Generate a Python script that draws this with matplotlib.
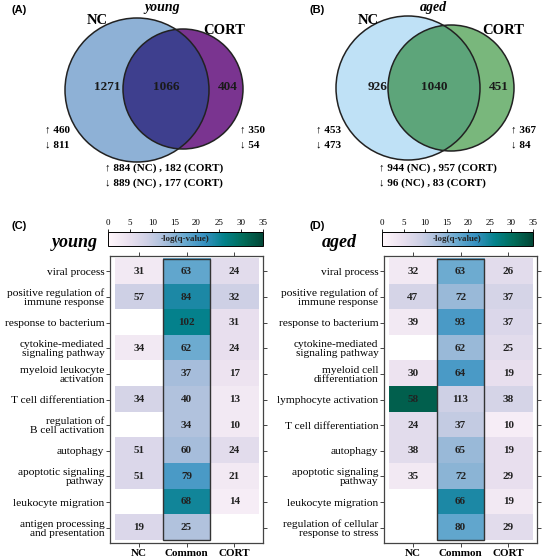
import numpy as np
import matplotlib
matplotlib.use("Agg")
import matplotlib.pyplot as plt
from matplotlib.patches import Circle, Rectangle

# venn counts
young_venn = {"NC": 1271, "Common": 1066, "CORT": 404}
young_nc_updown = (460, 811)
young_cort_updown = (350, 54)
young_common_up = (884, 182)
young_common_down = (889, 177)

aged_venn = {"NC": 926, "Common": 1040, "CORT": 451}
aged_nc_updown = (453, 473)
aged_cort_updown = (367, 84)
aged_common_up = (944, 957)
aged_common_down = (96, 83)

columns = ["NC", "Common", "CORT"]

young_terms = ["viral process", "positive regulation of\nimmune response", "response to bacterium",
               "cytokine-mediated\nsignaling pathway", "myeloid leukocyte\nactivation", "T cell differentiation",
               "regulation of\nB cell activation", "autophagy", "apoptotic signaling\npathway",
               "leukocyte migration", "antigen processing\nand presentation"]
# gene counts (nan = not enriched)
young_counts = [[31, 63, 24], [57, 84, 32], [np.nan, 102, 31], [34, 62, 24], [np.nan, 37, 17],
                [34, 40, 13], [np.nan, 34, 10], [51, 60, 24], [51, 79, 21], [np.nan, 68, 14],
                [19, 25, np.nan]]
# -log(q-value), estimated from colours
young_logq = [[3, 18, 6], [9, 24, 9], [np.nan, 26, 5], [3, 17, 5], [np.nan, 13, 4],
              [8, 12, 3], [np.nan, 12, 3], [7, 13, 6], [7, 20, 3], [np.nan, 25, 2],
              [7, 12, np.nan]]

aged_terms = ["viral process", "positive regulation of\nimmune response", "response to bacterium",
              "cytokine-mediated\nsignaling pathway", "myeloid cell\ndifferentiation", "lymphocyte activation",
              "T cell differentiation", "autophagy", "apoptotic signaling\npathway",
              "leukocyte migration", "regulation of cellular\nresponse to stress"]
aged_counts = [[32, 63, 26], [47, 72, 37], [39, 93, 37], [np.nan, 62, 25], [30, 64, 19],
               [58, 113, 38], [24, 37, 10], [38, 65, 19], [35, 72, 29], [np.nan, 66, 19],
               [np.nan, 80, 29]]
aged_logq = [[3, 17, 6], [8, 14, 8], [3, 20, 7], [np.nan, 14, 6], [4, 20, 5],
             [32, 9, 8], [6, 10, 2], [6, 14, 5], [3, 15, 5], [np.nan, 24, 3],
             [np.nan, 18, 6]]

W, H = 548, 559
SERIF = ["Liberation Serif", "DejaVu Serif"]
plt.rcParams["font.family"] = SERIF
cmap = plt.get_cmap("PuBuGn")

fig = plt.figure(figsize=(W / 100, H / 100), dpi=100)


def px_axes(left, top, right, bottom):
    return fig.add_axes([left / W, 1 - bottom / H, (right - left) / W, (bottom - top) / H])


def draw_venn(x0, title, label, label_x, venn, nc_ud, cort_ud, com_up, com_down,
              nc_col, both_col, cort_col, geom, cort_label_x):
    ax = px_axes(x0, 0, x0 + 274, 215)
    ax.set_xlim(0, 274)
    ax.set_ylim(215, 0)
    ax.axis("off")
    (ncx, ncy, ncr), (cx, cy, cr) = geom
    nc = Circle((ncx, ncy), ncr, facecolor=nc_col, edgecolor="none")
    cort = Circle((cx, cy), cr, facecolor=cort_col, edgecolor="none")
    ax.add_patch(nc)
    ax.add_patch(cort)
    both = Circle((cx, cy), cr, facecolor=both_col, edgecolor="none")
    ax.add_patch(both)
    both.set_clip_path(nc)
    ax.add_patch(Circle((ncx, ncy), ncr, facecolor="none", edgecolor="#222222", lw=1.1))
    ax.add_patch(Circle((cx, cy), cr, facecolor="none", edgecolor="#222222", lw=1.1))

    ax.text(label_x, 10, label, family="Liberation Sans", fontweight="bold", fontsize=8, va="center")
    ax.text(ncx + 25, 8, title, fontweight="bold", style="italic", fontsize=10, ha="center", va="center")
    ax.text(ncx - 40, 20, "NC", fontweight="bold", fontsize=10.5, ha="center", va="center")
    ax.text(cort_label_x, 30, "CORT", fontweight="bold", fontsize=10.5, ha="center", va="center")
    bold = dict(fontweight="bold", fontsize=9.5, ha="center", va="center", color="#1a1a1a")
    ax.text(ncx - 30, 87, str(venn["NC"]), **bold)
    ax.text((ncx + ncr + cx - cr) / 2, 87, str(venn["Common"]), **bold)
    ax.text(cx + cr - 15, 87, str(venn["CORT"]), **bold)
    small = dict(fontweight="bold", fontsize=8, va="center", family=SERIF)
    ax.text(ncx - ncr - 20, 130, f"\u2191 {nc_ud[0]}", **small)
    ax.text(ncx - ncr - 20, 145, f"\u2193 {nc_ud[1]}", **small)
    ax.text(cx + cr - 3, 130, f"\u2191 {cort_ud[0]}", **small)
    ax.text(cx + cr - 3, 145, f"\u2193 {cort_ud[1]}", **small)
    ax.text(105, 168, f"\u2191 {com_up[0]} (NC) , {com_up[1]} (CORT)", **small)
    ax.text(105, 183, f"\u2193 {com_down[0]} (NC) , {com_down[1]} (CORT)", **small)


draw_venn(0, "young", "(A)", 12, young_venn, young_nc_updown, young_cort_updown, young_common_up,
          young_common_down, "#8eb1d6", "#3e3f8e", "#7a3490",
          ((137, 90, 72), (183, 89, 60)), 224)
draw_venn(274, "aged", "(B)", 36, aged_venn, aged_nc_updown, aged_cort_updown, aged_common_up,
          aged_common_down, "#bfe1f6", "#5da57a", "#79b77c",
          ((134, 88, 72), (177, 88, 63)), 229)


def draw_heat(x0, label, title, terms, counts, logq):
    # panel label and title
    lab = px_axes(x0, 215, x0 + 274, 250)
    lab.set_xlim(0, 274)
    lab.set_ylim(250, 215)
    lab.axis("off")
    lab.text(12 if x0 == 0 else 36, 226, label, family="Liberation Sans", fontweight="bold",
             fontsize=8, va="center")
    lab.text(75 if x0 == 0 else 65, 242, title, fontweight="bold", style="italic", fontsize=13,
             ha="center", va="center")

    ax = px_axes(x0 + 110, 256, x0 + 263, 543)
    data = np.ma.masked_invalid(np.array(logq, dtype=float))
    im = ax.imshow(data, cmap=cmap, vmin=0, vmax=35, aspect="auto", interpolation="nearest")
    ax.set_xlim(-0.6, 2.6)
    ax.set_ylim(10.6, -0.6)
    cnt = np.array(counts, dtype=float)
    for i in range(cnt.shape[0]):
        for j in range(cnt.shape[1]):
            if not np.isnan(cnt[i, j]):
                ax.text(j, i, f"{int(cnt[i, j])}", ha="center", va="center", fontweight="bold",
                        fontsize=8, color="#222222")
    ax.add_patch(Rectangle((0.5, -0.5), 1, len(terms), facecolor="none", edgecolor="#333333", lw=1.0))
    ax.set_yticks(range(len(terms)))
    ax.set_yticklabels(terms, fontsize=8.2, linespacing=1.0)
    ax.set_xticks(range(3))
    ax.set_xticklabels(columns, fontweight="bold", fontsize=8)
    ax.tick_params(axis="both", length=3, width=0.7, top=True, right=True, color="#444444")
    ax.tick_params(axis="y", pad=1)
    ax.tick_params(axis="x", pad=1)
    for s in ax.spines.values():
        s.set_color("#444444")
        s.set_linewidth(0.9)

    cax = px_axes(x0 + 108, 232, x0 + 263 + (0 if x0 == 0 else -4), 246)
    cb = fig.colorbar(im, cax=cax, orientation="horizontal", ticks=range(0, 40, 5))
    cb.outline.set_linewidth(0.7)
    cax.xaxis.set_ticks_position("top")
    cax.tick_params(labelsize=6.5, length=2.5, width=0.6, pad=1)
    cax.text(0.5, 0.5, "-log(q-value)", transform=cax.transAxes, ha="center", va="center",
             fontweight="bold", fontsize=6.5, color="#222222")


draw_heat(0, "(C)", "young", young_terms, young_counts, young_logq)
draw_heat(274, "(D)", "aged", aged_terms, aged_counts, aged_logq)

fig.savefig("out.png", dpi=100)
